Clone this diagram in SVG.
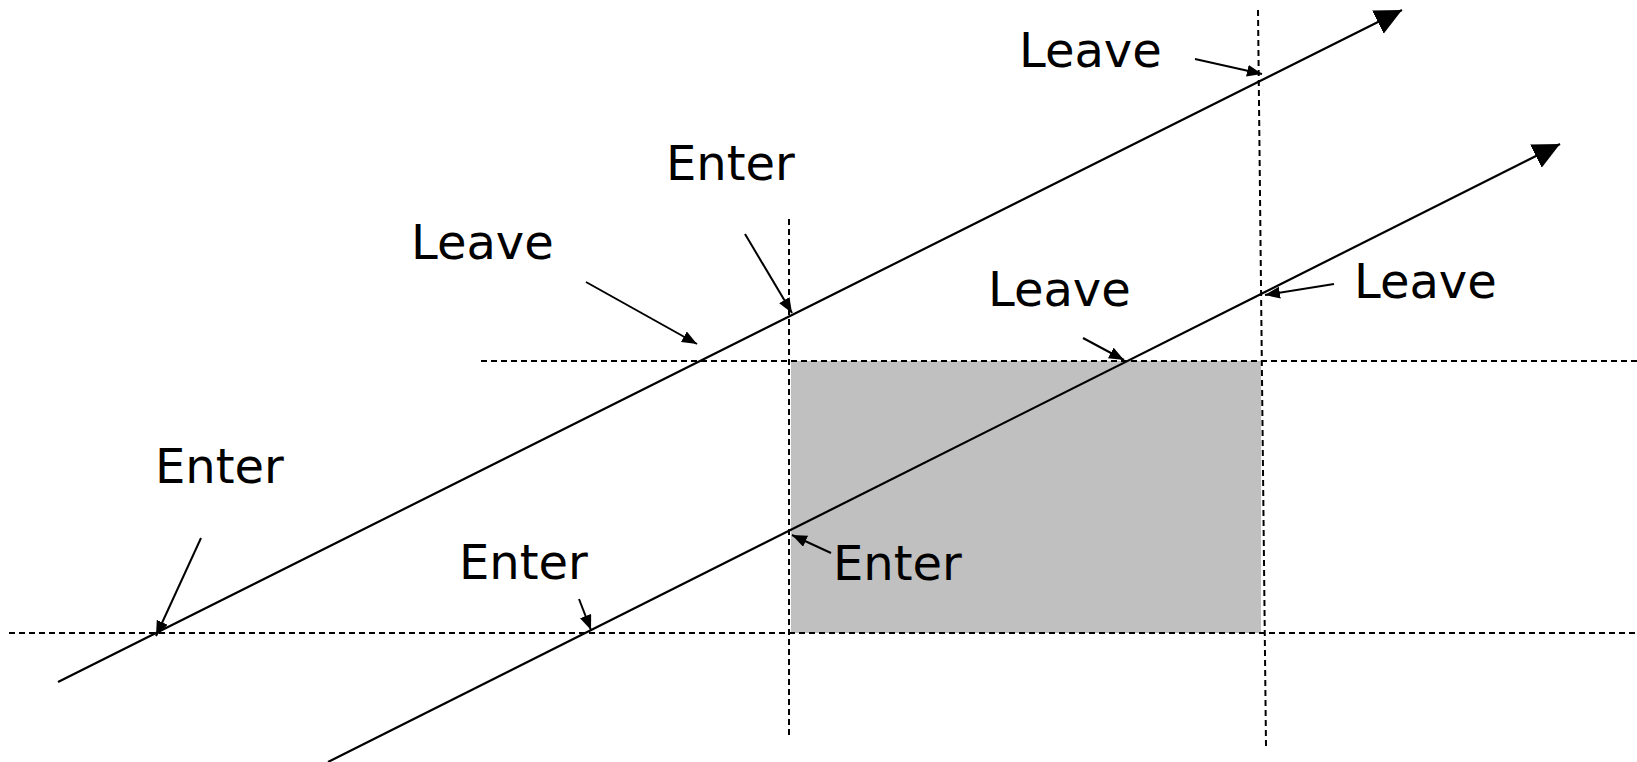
<svg xmlns="http://www.w3.org/2000/svg" width="1637" height="762" viewBox="0 0 1637 762">
  <style>
    .lbl { font-family: "DejaVu Sans", Verdana, sans-serif; font-size: 48px; fill: #000; }
    .dash { stroke: #000; stroke-width: 2; stroke-dasharray: 6 4; fill: none; }
    .ray { stroke: #000; stroke-width: 2.2; fill: none; marker-end: url(#bigArrow); }
    .ptr { stroke: #000; stroke-width: 2; fill: none; marker-end: url(#smallArrow); }
  </style>
  <defs>
    <marker id="bigArrow" markerUnits="userSpaceOnUse" markerWidth="28" markerHeight="28" refX="27" refY="13" orient="auto">
      <path d="M0,0 L27,13 L0,26 z" fill="#000"/>
    </marker>
    <marker id="smallArrow" markerUnits="userSpaceOnUse" markerWidth="16" markerHeight="14" refX="15" refY="6" orient="auto">
      <path d="M0,0 L15,6 L0,12 z" fill="#000"/>
    </marker>
  </defs>
  <rect width="1637" height="762" fill="#fff"/>

  <g id="region">
    <rect x="791" y="361" width="470" height="272" fill="#c0c0c0"/>
  </g>

  <g id="clip-lines">
    <line class="dash" x1="481" y1="361" x2="1637" y2="361"/>
    <line class="dash" x1="9" y1="633" x2="1637" y2="633"/>
    <line class="dash" x1="789" y1="219" x2="789" y2="738"/>
    <line class="dash" x1="1258" y1="10" x2="1266" y2="746"/>
  </g>

  <g id="connectors">
    <line class="ray" x1="58" y1="682" x2="1402" y2="10"/>
    <line class="ray" x1="328" y1="762" x2="1560" y2="144"/>
    <line class="ptr" x1="1195" y1="59" x2="1262" y2="74"/>
    <line class="ptr" x1="586" y1="282" x2="697" y2="344"/>
    <line class="ptr" x1="745" y1="234" x2="792" y2="313"/>
    <line class="ptr" x1="1083" y1="338" x2="1124" y2="360"/>
    <line class="ptr" x1="1334" y1="284" x2="1265" y2="295"/>
    <line class="ptr" x1="201" y1="538" x2="156" y2="636"/>
    <line class="ptr" x1="579" y1="599" x2="591" y2="630"/>
    <line class="ptr" x1="831" y1="553" x2="792" y2="535"/>
  </g>

  <g id="label-leave-1"><text class="lbl" x="1019" y="67">Leave</text></g>
  <g id="label-enter-1"><text class="lbl" x="666" y="180">Enter</text></g>
  <g id="label-leave-2"><text class="lbl" x="411" y="259">Leave</text></g>
  <g id="label-leave-3"><text class="lbl" x="988" y="306">Leave</text></g>
  <g id="label-leave-4"><text class="lbl" x="1354" y="298">Leave</text></g>
  <g id="label-enter-2"><text class="lbl" x="155" y="483">Enter</text></g>
  <g id="label-enter-3"><text class="lbl" x="459" y="579">Enter</text></g>
  <g id="label-enter-4"><text class="lbl" x="833" y="580">Enter</text></g>
</svg>
